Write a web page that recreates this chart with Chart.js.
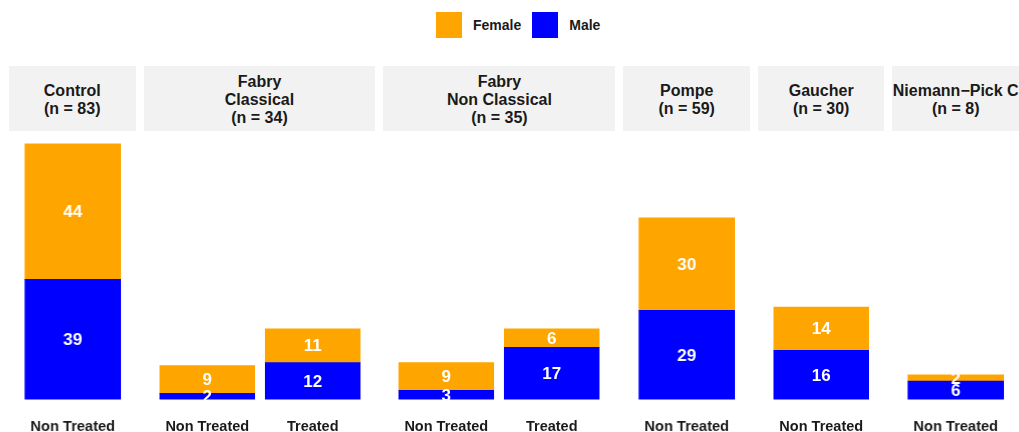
<!DOCTYPE html>
<html>
<head>
<meta charset="utf-8">
<script src="https://cdn.jsdelivr.net/npm/chart.js@4"></script>
<style>
  html, body { margin: 0; padding: 0; background: #fff; }
  body { width: 1019px; height: 432px; position: relative; overflow: hidden;
         font-family: "Liberation Sans", Arial, sans-serif; }
  .strip { position: absolute; top: 66px; height: 65px; background: #f2f2f2;
           display: flex; align-items: center; justify-content: center; text-align: center;
           font-weight: bold; font-size: 16px; line-height: 18px; color: #1a1a1a; white-space: nowrap;
           padding-top: 2px; box-sizing: border-box; }
  .panel { position: absolute; top: 131px; height: 324px; }
  .legend { position: absolute; top: 12px; left: 436px; display: flex; align-items: center;
            font-weight: bold; font-size: 14px; color: #1a1a1a; }
  .key { width: 26px; height: 26px; margin-right: 11px; }
</style>
</head>
<body>
<div class="legend">
  <div class="key" style="background:#FFA500"></div><span style="margin-right:11px">Female</span>
  <div class="key" style="background:#0000FF"></div><span>Male</span>
</div>

<script>
// facet titles and bars per facet
const facets = ['Control', 'Fabry\nClassical', 'Fabry\nNon Classical', 'Pompe', 'Gaucher', 'Niemann\u2212Pick C'];
const facetN = [83, 34, 35, 59, 30, 8];
const groups = [
  ['Non Treated'],
  ['Non Treated', 'Treated'],
  ['Non Treated', 'Treated'],
  ['Non Treated'],
  ['Non Treated'],
  ['Non Treated']
];
const female = [[44], [9, 11], [9, 6], [30], [14], [2]];
const male   = [[39], [2, 12], [3, 17], [29], [16], [6]];

const ORANGE = '#FFA500';
const BLUE = '#0000FF';

// layout: panel widths proportional to (bars + 1.2)
const left0 = 9, gap = 8, totalW = 1010;
const units = groups.map(g => g.length + 0.2);
const unitPx = (totalW - gap * (facets.length - 1)) / units.reduce((a, b) => a + b, 0);

const totals = female.map((f, i) => f.map((v, j) => v + male[i][j]));
const yMax = Math.max(...totals.flat()) * 1.05;

const segLabels = {
  id: 'segLabels',
  afterDatasetsDraw(chart) {
    const ctx = chart.ctx;
    ctx.save();
    ctx.fillStyle = '#fff';
    ctx.font = 'bold 17px "Liberation Sans", Arial, sans-serif';
    ctx.textAlign = 'center';
    ctx.textBaseline = 'middle';
    chart.data.datasets.forEach((ds, di) => {
      chart.getDatasetMeta(di).data.forEach((el, i) => {
        ctx.fillText(String(ds.data[i].y), el.x, (el.y + el.base) / 2 + 1);
      });
    });
    ctx.restore();
  }
};

let x = left0;
facets.forEach((name, fi) => {
  const w = units[fi] * unitPx;
  const labels = groups[fi];

  const strip = document.createElement('div');
  strip.className = 'strip';
  strip.style.left = x + 'px';
  strip.style.width = w + 'px';
  strip.innerHTML = (name + '\n(n = ' + facetN[fi] + ')').split('\n').join('<br>');
  document.body.appendChild(strip);

  const box = document.createElement('div');
  box.className = 'panel';
  box.style.left = x + 'px';
  box.style.width = w + 'px';
  const canvas = document.createElement('canvas');
  box.appendChild(canvas);
  document.body.appendChild(box);

  new Chart(canvas, {
    type: 'bar',
    data: {
      datasets: [
        { label: 'Male', data: male[fi].map((v, i) => ({ x: i + 1, y: v })), backgroundColor: BLUE },
        { label: 'Female', data: female[fi].map((v, i) => ({ x: i + 1, y: v })), backgroundColor: ORANGE }
      ]
    },
    options: {
      responsive: true,
      maintainAspectRatio: false,
      animation: false,
      barThickness: 0.9 * unitPx,
      layout: { padding: 0 },
      plugins: { legend: { display: false }, tooltip: { enabled: false } },
      scales: {
        x: {
          type: 'linear', stacked: true, offset: false, bounds: 'data',
          min: 0.4, max: labels.length + 0.6,
          afterBuildTicks: s => { s.ticks = labels.map((_, i) => ({ value: i + 1 })); },
          ticks: {
            autoSkip: false, maxRotation: 0, padding: 19,
            color: '#1a1a1a',
            font: { family: '"Liberation Sans", Arial, sans-serif', size: 14.5, weight: 'bold' },
            callback: v => labels[v - 1]
          },
          grid: { display: false, drawTicks: false, offset: false },
          border: { display: false }
        },
        y: {
          stacked: true, min: 0, max: yMax, display: false
        }
      }
    },
    plugins: [segLabels]
  });

  x += w + gap;
});
</script>
</body>
</html>
